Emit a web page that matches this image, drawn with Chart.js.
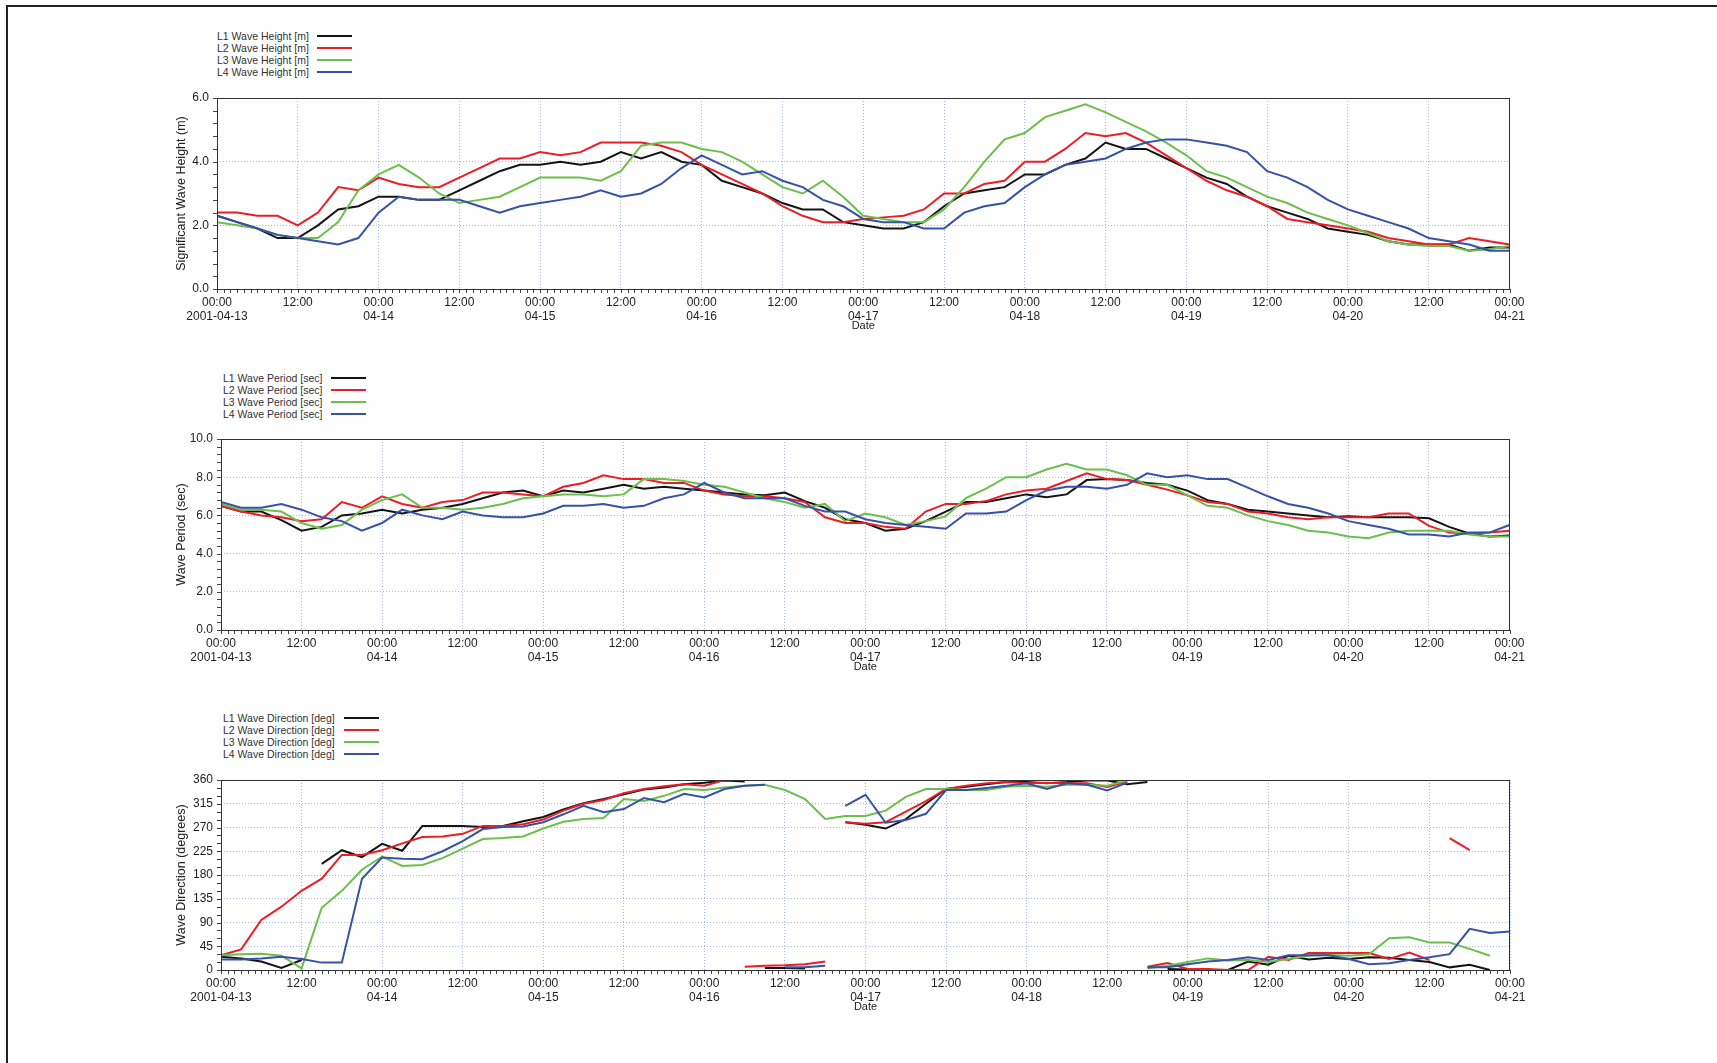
<!DOCTYPE html>
<html><head><meta charset="utf-8">
<script src="https://cdn.jsdelivr.net/npm/chart.js@4.4.1/dist/chart.umd.min.js"></script>
<style>
html,body{margin:0;padding:0;background:#fff;width:1717px;height:1063px;overflow:hidden;font-family:"Liberation Sans",Arial,sans-serif;}
.frameTop{position:absolute;left:6px;top:5px;width:1711px;height:2px;background:#222;}
.frameLeft{position:absolute;left:6px;top:5px;width:2px;height:1058px;background:#222;}
canvas{position:absolute;left:0;}
.leg{position:absolute;font-size:10.5px;color:#333;line-height:12px;white-space:nowrap;}
.legline{position:absolute;height:2px;}
</style></head><body>
<div class="frameTop"></div><div class="frameLeft"></div>
<canvas id="c1" width="1717" height="260" style="top:81px"></canvas>
<canvas id="c2" width="1717" height="262" style="top:420px"></canvas>
<canvas id="c3" width="1717" height="262" style="top:760px"></canvas>
<div id="legends"></div>
<script>
// time axis: hours since 2001-04-13 00:00, 3-hourly
const hours = [0,3,6,9,12,15,18,21, 24,27,30,33,36,39,42,45, 48,51,54,57,60,63,66,69, 72,75,78,81,84,87,90,93,
  96,99,102,105,108,111,114,117, 120,123,126,129,132,135,138,141, 144,147,150,153,156,159,162,165, 168,171,174,177,180,183,186,189, 192];
const dayLabels = ['2001-04-13','04-14','04-15','04-16','04-17','04-18','04-19','04-20','04-21'];
const stations = ['L1','L2','L3','L4'];
const colors = ['#141414','#ec1d25','#6cbf4a','#3652a8'];

// Significant wave height (m)
const heightL1 = [2.3,2.1,1.9,1.6,1.6,2.0,2.5,2.6, 2.9,2.9,2.8,2.8,3.1,3.4,3.7,3.9, 3.9,4.0,3.9,4.0,4.3,4.1,4.3,4.0,
  3.9,3.4,3.2,3.0,2.7,2.5,2.5,2.1, 2.0,1.9,1.9,2.1,2.6,3.0,3.1,3.2, 3.6,3.6,3.9,4.1,4.6,4.4,4.4,4.1,
  3.8,3.5,3.3,2.9,2.6,2.4,2.2,1.9, 1.8,1.7,1.5,1.4,1.4,1.4,1.2,1.3, 1.3];
const heightL2 = [2.4,2.4,2.3,2.3,2.0,2.4,3.2,3.1, 3.5,3.3,3.2,3.2,3.5,3.8,4.1,4.1, 4.3,4.2,4.3,4.6,4.6,4.6,4.5,4.3,
  3.9,3.6,3.3,3.0,2.6,2.3,2.1,2.1, 2.2,2.25,2.3,2.5,3.0,3.0,3.3,3.4, 4.0,4.0,4.4,4.9,4.8,4.9,4.6,4.2,
  3.8,3.4,3.1,2.9,2.6,2.2,2.1,2.0, 1.9,1.8,1.6,1.5,1.4,1.4,1.6,1.5, 1.4];
const heightL3 = [2.1,2.0,1.9,1.7,1.6,1.6,2.1,3.1, 3.6,3.9,3.5,3.0,2.7,2.8,2.9,3.2, 3.5,3.5,3.5,3.4,3.7,4.5,4.6,4.6,
  4.4,4.3,4.0,3.6,3.2,3.0,3.4,2.9, 2.3,2.2,2.1,2.1,2.5,3.2,4.0,4.7, 4.9,5.4,5.6,5.8,5.55,5.25,4.95,4.6,
  4.2,3.7,3.5,3.2,2.9,2.7,2.4,2.2, 2.0,1.75,1.5,1.4,1.35,1.35,1.2,1.25, 1.35];
const heightL4 = [2.3,2.1,1.9,1.7,1.6,1.5,1.4,1.6, 2.4,2.9,2.8,2.8,2.8,2.6,2.4,2.6, 2.7,2.8,2.9,3.1,2.9,3.0,3.3,3.8,
  4.2,3.9,3.6,3.7,3.4,3.2,2.8,2.6, 2.2,2.1,2.1,1.9,1.9,2.4,2.6,2.7, 3.2,3.6,3.9,4.0,4.1,4.4,4.6,4.7,
  4.7,4.6,4.5,4.3,3.7,3.5,3.2,2.8, 2.5,2.3,2.1,1.9,1.6,1.5,1.4,1.2, 1.2];

// Wave period (sec)
const periodL1 = [6.5,6.2,6.2,5.75,5.2,5.4,6.0,6.1, 6.3,6.1,6.3,6.4,6.6,6.9,7.2,7.3, 7.0,7.3,7.2,7.4,7.6,7.4,7.5,7.4,
  7.3,7.2,7.1,7.05,7.2,6.75,6.4,5.8, 5.6,5.2,5.3,5.7,6.2,6.7,6.7,6.9, 7.1,6.95,7.1,7.85,7.9,7.85,7.7,7.6,
  7.3,6.8,6.6,6.3,6.2,6.1,6.0,5.9, 5.95,5.9,5.9,5.9,5.85,5.4,5.05,4.9, 4.95];
const periodL2 = [6.5,6.2,6.0,5.9,5.7,5.8,6.7,6.4, 7.0,6.6,6.4,6.7,6.8,7.2,7.2,7.1, 7.0,7.5,7.7,8.1,7.9,7.9,7.7,7.7,
  7.3,7.1,7.0,7.0,6.9,6.7,5.9,5.6, 5.6,5.4,5.3,6.2,6.6,6.6,6.75,7.1, 7.3,7.4,7.8,8.2,7.9,7.85,7.6,7.35,
  7.05,6.7,6.6,6.2,6.1,5.9,5.8,5.9, 5.9,5.9,6.1,6.1,5.45,5.1,5.05,5.1, 5.2];
const periodL3 = [6.6,6.3,6.3,6.2,5.6,5.3,5.5,6.3, 6.8,7.1,6.4,6.4,6.3,6.4,6.6,6.9, 7.0,7.1,7.1,7.0,7.1,7.9,7.9,7.8,
  7.6,7.5,7.2,6.9,6.7,6.4,6.6,5.7, 6.1,5.9,5.5,5.7,5.95,6.9,7.4,8.0, 8.0,8.4,8.7,8.4,8.4,8.1,7.6,7.6,
  7.05,6.5,6.4,6.0,5.7,5.5,5.2,5.1, 4.9,4.8,5.1,5.2,5.2,5.2,5.0,4.9, 4.9];
const periodL4 = [6.7,6.4,6.4,6.6,6.3,5.9,5.7,5.2, 5.6,6.3,6.0,5.8,6.2,6.0,5.9,5.9, 6.1,6.5,6.5,6.6,6.4,6.5,6.9,7.1,
  7.7,7.2,6.9,6.9,6.9,6.5,6.2,6.2, 5.8,5.6,5.5,5.4,5.3,6.1,6.1,6.2, 6.8,7.3,7.5,7.5,7.4,7.6,8.2,8.0,
  8.1,7.9,7.9,7.45,7.0,6.6,6.4,6.1, 5.7,5.5,5.3,5.0,5.0,4.9,5.1,5.1, 5.5];

// Wave direction (deg)
const dirL1 = [25,22,16,4,19,201,227,214, 239,226,273,273,273,271,273,282, 290,304,316,324,333,342,346,352,
  355,359,357,4,4,3,null,280, 275,268,286,315,343,347,352,356, 356,354,356,359,359,352,356,2,
  1,0,0,16,10,27,20,23, 21,24,23,19,15,5,10,0, null];
const dirL2 = [28,39,95,120,150,173,218,218, 227,240,252,253,258,273,273,276, 285,302,315,322,335,343,348,352,
  349,360,6,8,9,11,16,280, 277,280,300,320,343,349,354,356, 354,355,354,354,347,357,6,13,
  2,2,0,0,25,19,32,32, 32,32,21,33,19,250,227,null, null];
const dirL3 = [28,30,31,27,3,118,150,190, 215,197,199,212,230,248,250,253, 268,281,286,288,324,320,330,343,
  341,346,349,351,341,324,286,292, 292,302,328,343,343,341,341,347, 349,347,351,351,349,359,3,8,
  15,22,18,19,15,21,27,29, 27,30,60,62,52,52,40,27, null];
const dirL4 = [20,20,22,25,21,14,14,173, 213,211,210,225,244,267,271,272, 280,295,311,299,305,326,318,334,
  327,343,349,351,5,5,8,311, 332,279,284,296,341,341,345,349, 354,343,354,351,340,355,5,5,
  11,16,19,24,19,28,28,28, 21,11,13,19,24,30,78,70, 73];

const axisDeco = {
  id: 'axisDeco',
  afterDatasetsDraw(chart, args, opts) {
    const {ctx, chartArea: a, scales: {x, y}} = chart;
    ctx.save();
    ctx.strokeStyle = '#444';
    ctx.lineWidth = 1;
    ctx.beginPath();
    for (let h = x.min; h <= x.max; h += 1) {
      const px = Math.round(x.getPixelForValue(h)) + 0.5;
      ctx.moveTo(px, a.bottom); ctx.lineTo(px, a.bottom + 4);
    }
    const n = Math.round((y.max - y.min) / opts.yMinor);
    for (let i = 0; i <= n; i++) {
      const py = Math.round(y.getPixelForValue(y.min + i * opts.yMinor)) + 0.5;
      ctx.moveTo(a.left - 4, py); ctx.lineTo(a.left, py);
    }
    ctx.stroke();
    ctx.strokeStyle = '#333';
    ctx.strokeRect(Math.round(a.left) + 0.5, Math.round(a.top) + 0.5, Math.round(a.width) - 1, Math.round(a.height));
    ctx.restore();
  }
};

const gridColor = 'rgba(125,160,225,0.75)';

function makeChart(id, cfg) {
  const datasets = cfg.series.map((vals, i) => ({
    label: stations[i] + ' ' + cfg.name,
    data: hours.map((h, k) => ({x: h, y: vals[k]})),
    borderColor: colors[i],
    backgroundColor: colors[i],
    borderWidth: 2,
    pointRadius: 0,
    tension: 0,
    spanGaps: false,
    order: 4 - i,
    segment: cfg.wrap ? {
      borderColor: c => (Math.abs(c.p1.parsed.y - c.p0.parsed.y) > 180 ? 'rgba(0,0,0,0)' : undefined)
    } : undefined
  }));
  const chart = new Chart(document.getElementById(id), {
    type: 'line',
    data: {datasets},
    options: {
      responsive: false,
      animation: false,
      events: [],
      layout: {padding: {top: cfg.padTop, left: 174, right: cfg.padRight, bottom: 8}},
      plugins: {legend: {display: false}, tooltip: {enabled: false}, axisDeco: {yMinor: cfg.yMinor}},
      scales: {
        x: {
          type: 'linear', min: 0, max: 192,
          afterFit: s => { s.height = 44; },
          ticks: {
            stepSize: 12, autoSkip: false, maxRotation: 0, padding: 6, color: '#222',
            font: {family: '"Liberation Sans", Arial, sans-serif', size: 12},
            callback: v => (v % 24 === 0 ? ['00:00', dayLabels[v / 24]] : '12:00')
          },
          grid: {color: gridColor, lineWidth: 1, drawTicks: false},
          border: {display: false, dash: [1, 2]},
          title: {display: true, text: 'Date', color: '#222', padding: 0,
            font: {family: '"Liberation Sans", Arial, sans-serif', size: 11}}
        },
        y: {
          min: 0, max: cfg.yMax,
          afterFit: s => { s.width = cfg.yWidth; },
          ticks: {
            stepSize: cfg.yStep, padding: 8, color: '#222',
            font: {family: '"Liberation Sans", Arial, sans-serif', size: 12},
            callback: cfg.fmt
          },
          grid: {color: gridColor, lineWidth: 1, drawTicks: false},
          border: {display: false, dash: [1, 2]},
          title: {display: true, text: cfg.yTitle, color: '#222', padding: 0,
            font: {family: '"Liberation Sans", Arial, sans-serif', size: 12.5}}
        }
      }
    },
    plugins: [axisDeco]
  });
  // legend (text then line sample), built from the datasets
  const box = document.getElementById('legends');
  chart.data.datasets.forEach((ds, i) => {
    const yc = cfg.legY + i * 12;
    const t = document.createElement('div');
    t.className = 'leg';
    t.textContent = ds.label;
    t.style.left = cfg.legX + 'px';
    t.style.top = (yc - 6) + 'px';
    box.appendChild(t);
    const l = document.createElement('div');
    l.className = 'legline';
    l.style.left = cfg.lineX + 'px';
    l.style.width = cfg.lineW + 'px';
    l.style.top = (yc - 1) + 'px';
    l.style.background = ds.borderColor;
    box.appendChild(l);
  });
  return chart;
}

makeChart('c1', {name: 'Wave Height [m]', series: [heightL1, heightL2, heightL3, heightL4],
  yMax: 6, yStep: 2, yMinor: 0.4, yWidth: 43, padTop: 17, padRight: 207.5,
  yTitle: 'Significant Wave Height (m)', fmt: v => v.toFixed(1),
  legX: 217, legY: 36, lineX: 317, lineW: 35});
makeChart('c2', {name: 'Wave Period [sec]', series: [periodL1, periodL2, periodL3, periodL4],
  yMax: 10, yStep: 2, yMinor: 0.4, yWidth: 47, padTop: 19, padRight: 207.5,
  yTitle: 'Wave Period (sec)', fmt: v => v.toFixed(1),
  legX: 223, legY: 378, lineX: 331, lineW: 35});
makeChart('c3', {name: 'Wave Direction [deg]', series: [dirL1, dirL2, dirL3, dirL4],
  yMax: 360, yStep: 45, yMinor: 15, yWidth: 47, padTop: 20, padRight: 207, wrap: true,
  yTitle: 'Wave Direction (degrees)', fmt: v => String(v),
  legX: 223, legY: 718, lineX: 344, lineW: 35});
</script>
</body></html>
